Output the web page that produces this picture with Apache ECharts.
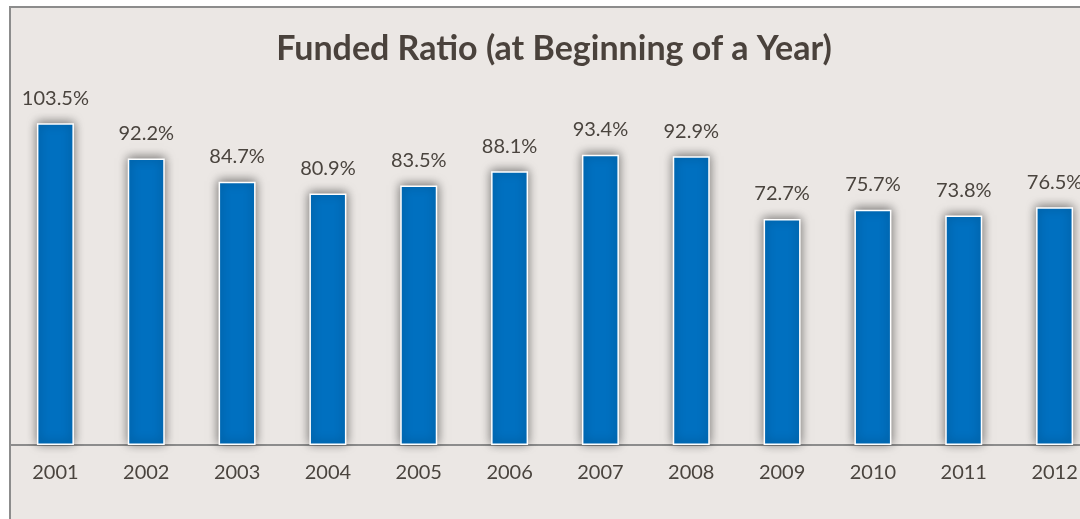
<!DOCTYPE html>
<html>
<head>
<meta charset="utf-8">
<script src="https://cdn.jsdelivr.net/npm/echarts@6/dist/echarts.min.js"></script>
<style>
html,body{margin:0;padding:0;background:#ffffff;overflow:hidden;}
#frame{position:absolute;left:9px;top:6px;width:1100px;height:600px;background:#ebe7e4;border-left:2px solid #8c8c8c;border-top:2px solid #8c8c8c;}
#chart{position:absolute;left:0;top:0;width:1080px;height:519px;}
</style>
</head>
<body>
<div id="frame"></div>
<div id="chart"></div>
<script>
const categories = ['2001','2002','2003','2004','2005','2006','2007','2008','2009','2010','2011','2012'];
const fundedRatio = [103.5, 92.2, 84.7, 80.9, 83.5, 88.1, 93.4, 92.9, 72.7, 75.7, 73.8, 76.5];
const titleText = 'Funded Ratio (at Beginning of a Year)';

const chart = echarts.init(document.getElementById('chart'), null, {renderer:'canvas'});
chart.setOption({
  backgroundColor: 'transparent',
  animation: false,
  title: {
    text: titleText,
    left: 549, top: 27, textAlign: 'center',
    textStyle: {fontFamily: 'Lato', fontWeight: 'bold', fontSize: 34, color: '#4a423c'}
  },
  grid: {left: 10, top: 72, width: 1090, bottom: 74, containLabel: false, outerBoundsMode: 'none'},
  xAxis: {
    type: 'category',
    data: categories,
    axisLine: {show: true, lineStyle: {color: '#8c8c8c', width: 2}},
    axisTick: {show: false},
    axisLabel: {fontFamily: 'Lato', fontSize: 20, color: '#4a443e', margin: 18}
  },
  yAxis: {
    type: 'value', min: 0, max: 120, show: false,
    splitLine: {show: false}
  },
  series: [{
    type: 'bar',
    data: fundedRatio,
    barWidth: 37,
    itemStyle: {
      color: '#0070c0',
      borderColor: '#ffffff',
      borderWidth: 1.5,
      shadowBlur: 10,
      shadowColor: 'rgba(0,0,0,0.5)',
      shadowOffsetY: -1
    },
    label: {
      show: true, position: 'top', distance: 15,
      formatter: p => p.value.toFixed(1) + '%',
      fontFamily: 'Lato', fontSize: 20, color: '#4a443e'
    }
  }]
});
</script>
</body>
</html>
